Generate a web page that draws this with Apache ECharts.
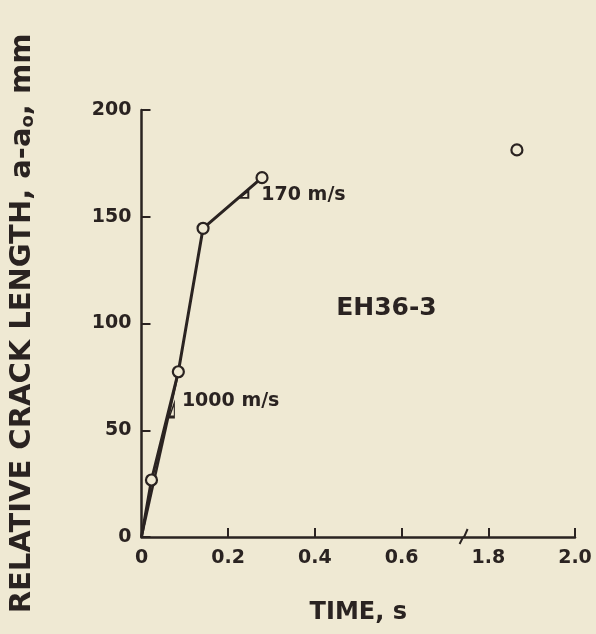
<!DOCTYPE html>
<html>
<head>
<meta charset="utf-8">
<script src="https://cdn.jsdelivr.net/npm/echarts@6/dist/echarts.min.js"></script>
<style>
html,body{margin:0;padding:0;background:#efe9d3;}
#c{width:596px;height:634px;}
</style>
</head>
<body>
<div id="c"></div>
<script>
// ---- data (time in s, relative crack length in mm) ----
const crackTime   = [0, 0.023, 0.085, 0.142, 0.278];
const crackLength = [0, 26.7, 77.4, 144.6, 168.3];
const fitTime     = [0, 0.085];          // 1000 m/s slope line
const fitLength   = [0, 77.4];
const lateTime    = [1.866];             // point after the axis break
const lateLength  = [181.3];
const xTickLabels = ['0', '0.2', '0.4', '0.6', '1.8', '2.0'];
const yTickLabels = ['0', '50', '100', '150', '200'];
const slopeMarks  = [ {t: 0.070, a: 59.5, label: '1000 m/s'}, {t: 0.236, a: 160.5, label: '170 m/s'} ];
const specimen    = {t: 0.565, a: 106.8, label: 'EH36-3'};
const BREAK_FROM = 0.7, BREAK_SHIFT = 1.0;   // axis jumps from 0.7 s to 1.7 s

function mapT(t){ return t > BREAK_FROM + 0.5 ? t - BREAK_SHIFT : t; }

const INK = '#2a2321', BG = '#efe9d3';
const FONT = 'DejaVu Sans';

const chart = echarts.init(document.getElementById('c'), null, {renderer: 'canvas'});

const mainData = crackTime.map((t, i) => {
  const d = {value: [mapT(t), crackLength[i]]};
  if (i === 0) d.symbol = 'none';
  return d;
});

const option = {
  backgroundColor: BG,
  animation: false,
  grid: {left: 134, right: 21, top: 110, bottom: 97},
  xAxis: {
    type: 'value', min: 0, max: 1.0, interval: 0.2,
    axisLine: {lineStyle: {color: INK, width: 2.5}},
    axisTick: {inside: true, length: 9, lineStyle: {color: INK, width: 2}},
    splitLine: {show: false},
    axisLabel: {
      margin: 12, color: INK, fontFamily: FONT, fontSize: 19, fontWeight: 'bold',
      formatter: v => xTickLabels[Math.round(v / 0.2)]
    },
    name: 'TIME, s', nameLocation: 'middle', nameGap: 64,
    nameTextStyle: {color: INK, fontFamily: FONT, fontSize: 24, fontWeight: 'bold'}
  },
  yAxis: {
    type: 'value', min: 0, max: 200, interval: 50,
    axisLine: {show: true, lineStyle: {color: INK, width: 2.5}},
    axisTick: {show: true, inside: true, length: 9, lineStyle: {color: INK, width: 2}},
    splitLine: {show: false},
    axisLabel: {
      margin: 10, color: INK, fontFamily: FONT, fontSize: 19, fontWeight: 'bold',
      formatter: v => yTickLabels[Math.round(v / 50)]
    },
    name: '{t|RELATIVE CRACK LENGTH, a-a}{s|o}{t|, mm}',
    nameLocation: 'middle', nameGap: 104, nameRotate: 90,
    nameTextStyle: {
      rich: {
        t: {color: INK, fontFamily: FONT, fontSize: 29, fontWeight: 'bold'},
        s: {color: INK, fontFamily: FONT, fontSize: 18, fontWeight: 'bold', padding: [12, 0, 0, 0]}
      }
    }
  },
  series: [
    {
      type: 'line', data: fitTime.map((t, i) => [mapT(t), fitLength[i]]),
      symbol: 'none', lineStyle: {color: INK, width: 2.5}, z: 2
    },
    {
      type: 'line', data: mainData,
      symbol: 'circle', symbolSize: 11,
      itemStyle: {color: BG, borderColor: INK, borderWidth: 2.2, opacity: 1},
      lineStyle: {color: INK, width: 3}, z: 3
    },
    {
      type: 'scatter', data: lateTime.map((t, i) => [mapT(t), lateLength[i]]),
      symbol: 'circle', symbolSize: 11,
      itemStyle: {color: BG, borderColor: INK, borderWidth: 2.2, opacity: 1}, z: 3
    },
    {
      type: 'scatter',
      data: [
        {value: [slopeMarks[0].t, slopeMarks[0].a], symbol: 'path://M0 14 L4 0 L4 14 Z', symbolSize: [5, 14],
         label: {show: true, formatter: slopeMarks[0].label, position: 'right', offset: [2, -9]}},
        {value: [slopeMarks[1].t, slopeMarks[1].a], symbol: 'path://M0 8 L10 0 L10 8 Z', symbolSize: [9, 7],
         label: {show: true, formatter: slopeMarks[1].label, position: 'right', offset: [7, 1]}}
      ],
      itemStyle: {color: 'rgba(0,0,0,0)', borderColor: INK, borderWidth: 1.8, opacity: 1},
      label: {color: INK, fontFamily: FONT, fontSize: 19, fontWeight: 'bold'},
      z: 4
    },
    {
      type: 'scatter', data: [[specimen.t, specimen.a]], symbolSize: 1,
      itemStyle: {color: 'rgba(0,0,0,0)', opacity: 1},
      label: {show: true, position: 'inside', formatter: specimen.label,
              color: INK, fontFamily: FONT, fontSize: 25, fontWeight: 'bold'},
      z: 4
    }
  ]
};
chart.setOption(option);

// axis break mark
const p = chart.convertToPixel({gridIndex: 0}, [0.743, 0]);
chart.setOption({
  graphic: [{
    type: 'polyline',
    shape: {points: [[p[0] - 4, p[1] + 7], [p[0] - 1, p[1] + 1], [p[0] + 1, p[1] - 1], [p[0] + 4, p[1] - 8]]},
    style: {stroke: INK, lineWidth: 2, fill: null}
  }]
});
</script>
</body>
</html>
